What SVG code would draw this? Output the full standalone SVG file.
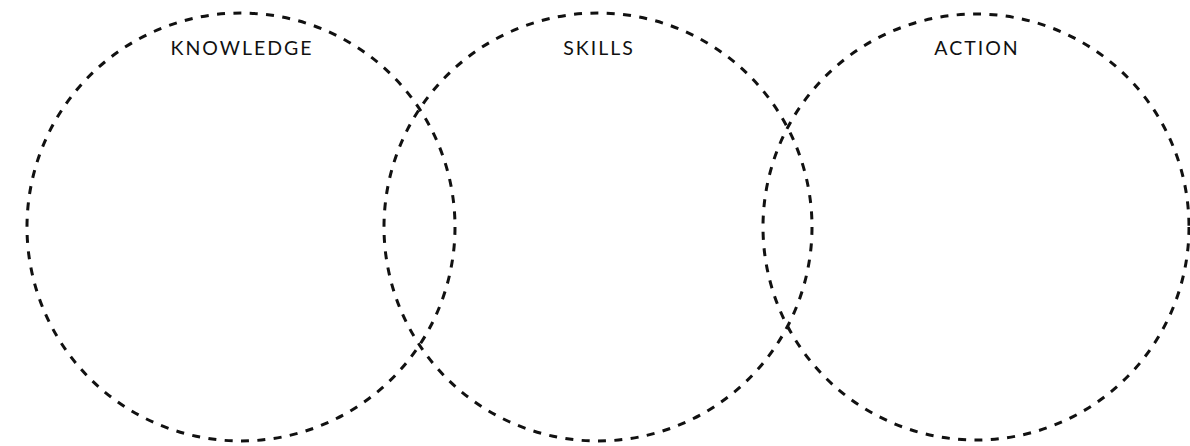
<svg xmlns="http://www.w3.org/2000/svg" width="1190" height="446" viewBox="0 0 1190 446">
<style>
.c{fill:none;stroke:#111;stroke-width:3;stroke-dasharray:8 8.4}
.t{font-family:Lato,"Open Sans",sans-serif;font-size:19.5px;fill:#111;text-anchor:middle;letter-spacing:2px}
</style>
<rect width="1190" height="446" fill="#fff"/>
<g id="knowledge"><circle class="c" cx="241" cy="227" r="214"/><text class="t" x="242" y="55">KNOWLEDGE</text></g>
<g id="skills"><circle class="c" cx="598" cy="227" r="214"/><text class="t" x="599" y="55">SKILLS</text></g>
<g id="action"><circle class="c" cx="976" cy="227" r="213"/><text class="t" x="977" y="55">ACTION</text></g>
<g id="connectors"></g>
</svg>
